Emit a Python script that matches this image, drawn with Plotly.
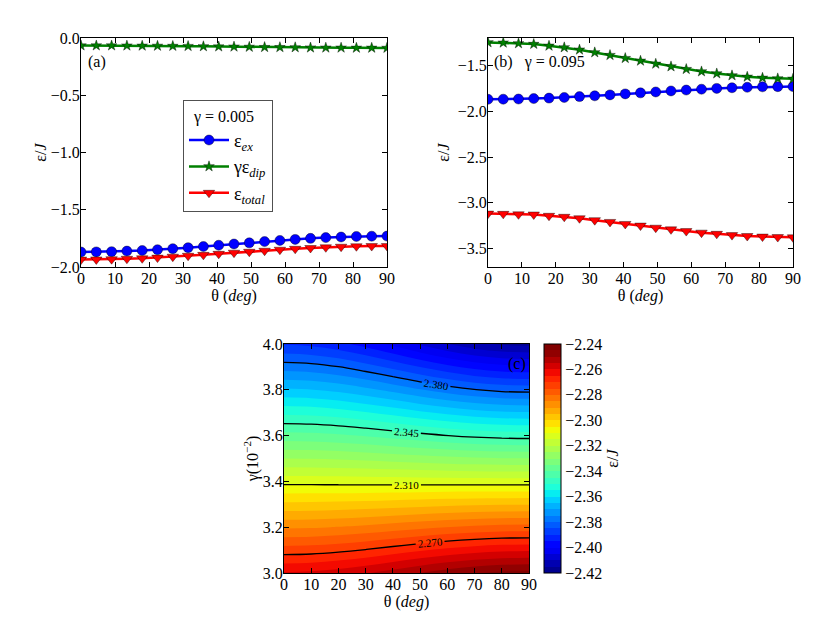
import plotly.graph_objects as go

# theta grid for panels (a) and (b)
theta = [0, 4.5, 9, 13.5, 18, 22.5, 27, 31.5, 36, 40.5, 45,
         49.5, 54, 58.5, 63, 67.5, 72, 76.5, 81, 85.5, 90]

e_ex = [-1.869, -1.868, -1.866, -1.861, -1.856, -1.849, -1.840, -1.831, -1.821, -1.810, -1.799,
        -1.789, -1.778, -1.768, -1.759, -1.750, -1.743, -1.738, -1.733, -1.731, -1.730]

# gamma = 0.005
dip_a = [-0.066, -0.066, -0.066, -0.067, -0.068, -0.069, -0.070, -0.071, -0.073, -0.075, -0.076,
         -0.078, -0.080, -0.081, -0.082, -0.084, -0.085, -0.085, -0.086, -0.086, -0.087]
tot_a = [-1.935, -1.934, -1.932, -1.928, -1.924, -1.918, -1.910, -1.902, -1.894, -1.885, -1.875,
         -1.867, -1.858, -1.849, -1.841, -1.834, -1.828, -1.823, -1.819, -1.817, -1.817]

# gamma = 0.095
dip_b = [-1.248, -1.252, -1.259, -1.266, -1.285, -1.303, -1.328, -1.358, -1.387, -1.420, -1.449,
         -1.482, -1.511, -1.540, -1.566, -1.588, -1.609, -1.624, -1.635, -1.642, -1.646]
tot_b = [-3.117, -3.120, -3.125, -3.127, -3.141, -3.152, -3.168, -3.189, -3.208, -3.230, -3.248,
         -3.271, -3.289, -3.308, -3.325, -3.338, -3.352, -3.362, -3.368, -3.373, -3.376]

# panel (c): energy map over theta x gamma(1e-2)
theta_c = [0, 10, 20, 30, 40, 50, 60, 70, 80, 90]
gamma_c = [3.0, 3.2, 3.4, 3.6, 3.8, 4.0]
energy_c = [
    [-2.2595, -2.2590, -2.2576, -2.2555, -2.2528, -2.2500, -2.2474, -2.2453, -2.2439, -2.2434],
    [-2.2857, -2.2855, -2.2848, -2.2838, -2.2825, -2.2812, -2.2799, -2.2789, -2.2782, -2.2780],
    [-2.3119, -2.3119, -2.3120, -2.3121, -2.3122, -2.3123, -2.3124, -2.3125, -2.3126, -2.3126],
    [-2.3381, -2.3384, -2.3392, -2.3404, -2.3419, -2.3434, -2.3449, -2.3461, -2.3469, -2.3472],
    [-2.3643, -2.3648, -2.3663, -2.3687, -2.3715, -2.3746, -2.3774, -2.3798, -2.3813, -2.3818],
    [-2.3905, -2.3913, -2.3935, -2.3970, -2.4012, -2.4057, -2.4099, -2.4134, -2.4156, -2.4164],
]
line_levels = [-2.380, -2.345, -2.310, -2.270]

# matplotlib style jet
jet = [[0, 'rgb(0,0,128)'], [0.11, 'rgb(0,0,255)'], [0.125, 'rgb(0,0,255)'],
       [0.34, 'rgb(0,219,255)'], [0.35, 'rgb(0,230,247)'], [0.375, 'rgb(21,255,226)'],
       [0.64, 'rgb(239,255,8)'], [0.65, 'rgb(247,245,0)'], [0.66, 'rgb(255,236,0)'],
       [0.89, 'rgb(255,19,0)'], [0.91, 'rgb(232,0,0)'], [1, 'rgb(128,0,0)']]

FONT = 'Liberation Serif'
# page body has an 8px margin, so the figure is 16px smaller and everything shifts by 8
OFF = 8
W, H = 830 - 2 * OFF, 627 - 2 * OFF


def dom_x(a, b):
    return [(a - OFF) / W, (b - OFF) / W]


def dom_y(top, bottom):
    return [1 - (bottom - OFF) / H, 1 - (top - OFF) / H]


fig = go.Figure()

series = [
    ('ε<sub><i>ex</i></sub>', 'rgb(0,0,255)', 'circle', 10),
    ('γε<sub><i>dip</i></sub>', 'rgb(0,128,0)', 'star', 8),
    ('ε<sub><i>total</i></sub>', 'rgb(255,0,0)', 'triangle-down', 10),
]
data_a = [e_ex, dip_a, tot_a]
data_b = [e_ex, dip_b, tot_b]
for i, (name, col, sym, sz) in enumerate(series):
    fig.add_trace(go.Scatter(x=theta, y=data_a[i], mode='lines+markers', name=name,
                             line=dict(color=col, width=2.5),
                             marker=dict(symbol=sym, size=sz, color=col, line=dict(color='black', width=0.4)),
                             xaxis='x', yaxis='y'))
    fig.add_trace(go.Scatter(x=theta, y=data_b[i], mode='lines+markers', name=name, showlegend=False,
                             line=dict(color=col, width=2.5),
                             marker=dict(symbol=sym, size=sz, color=col, line=dict(color='black', width=0.4)),
                             xaxis='x2', yaxis='y2'))

fig.add_trace(go.Contour(x=theta_c, y=gamma_c, z=energy_c, colorscale=jet,
                         zauto=False, zmin=-2.42, zmax=-2.24,
                         contours=dict(start=-2.42, end=-2.24, size=0.005, coloring='fill', showlines=False),
                         line=dict(width=0, smoothing=1),
                         colorbar=dict(x=(544 - OFF) / W, xanchor='left', xpad=0,
                                       y=1 - (458.5 - OFF) / H, yanchor='middle', ypad=0,
                                       len=229, lenmode='pixels', thickness=17, thicknessmode='pixels',
                                       outlinecolor='black', outlinewidth=1,
                                       tickvals=[-2.42 + 0.02 * k for k in range(10)], tickformat='.2f',
                                       ticks='',
                                       tickfont=dict(family=FONT, size=16, color='black'),
                                       title=dict(text='ε/<i>J</i>', side='right',
                                                  font=dict(family=FONT, size=16, color='black'))),
                         showlegend=False, xaxis='x3', yaxis='y3'))

# black labelled contour lines (negated so the labels read without sign, as in the figure)
neg_energy = [[-v for v in row] for row in energy_c]
for lev in line_levels:
    fig.add_trace(go.Contour(x=theta_c, y=gamma_c, z=neg_energy, showscale=False,
                             contours=dict(start=-lev, end=-lev + 0.0001, size=1, coloring='none',
                                           showlabels=True, labelformat='.3f',
                                           labelfont=dict(family=FONT, size=11, color='black')),
                             line=dict(color='black', width=1.3, smoothing=1),
                             showlegend=False, hoverinfo='skip', xaxis='x3', yaxis='y3'))

axis_common = dict(showgrid=False, zeroline=False, showline=True, linecolor='black', linewidth=1,
                   mirror='ticks', ticks='inside', ticklen=5, tickcolor='black', ticklabelstandoff=-3,
                   automargin=False, tickfont=dict(family=FONT, size=16, color='black'))
xtitle = dict(text='θ (<i>deg</i>)', font=dict(family=FONT, size=16, color='black'), standoff=2)


def ytitle(text, standoff):
    return dict(text=text, font=dict(family=FONT, size=16, color='black'), standoff=standoff)


fig.update_layout(
    width=W, height=H, margin=dict(l=0, r=0, t=0, b=0, autoexpand=False),
    paper_bgcolor='white', plot_bgcolor='white',
    font=dict(family=FONT, color='black'),
    xaxis=dict(domain=dom_x(81, 387), range=[0, 90], dtick=10, anchor='y', title=xtitle, **axis_common),
    yaxis=dict(domain=dom_y(38, 267), range=[-2.0, 0.0], dtick=0.5, tickformat='.1f', anchor='x',
               title=ytitle('ε/<i>J</i>', 0), **axis_common),
    xaxis2=dict(domain=dom_x(488, 793), range=[0, 90], dtick=10, anchor='y2', title=xtitle, **axis_common),
    yaxis2=dict(domain=dom_y(38, 267), range=[-3.7, -1.2], tickvals=[-3.5, -3.0, -2.5, -2.0, -1.5],
                tickformat='.1f', anchor='x2', title=ytitle('ε/<i>J</i>', 4), **axis_common),
    xaxis3=dict(domain=dom_x(284, 529), range=[0, 90], dtick=10, anchor='y3', title=xtitle, **axis_common),
    yaxis3=dict(domain=dom_y(344, 573), range=[3.0, 4.0], dtick=0.2, tickformat='.1f', anchor='x3',
                title=ytitle('γ(10<sup>−2</sup>)', 0), **axis_common),
    legend=dict(x=(183 - OFF) / W, y=1 - (100 - OFF) / H, xanchor='left', yanchor='top',
                bgcolor='white', bordercolor='rgb(80,80,80)', borderwidth=1,
                font=dict(family=FONT, size=18, color='black'),
                title=dict(text='  γ = 0.005', font=dict(family=FONT, size=16, color='black'), side='top'),
                itemwidth=40, tracegroupgap=2),
    annotations=[
        dict(text='(a)', xref='x domain', yref='y domain', x=0.015, y=0.895, showarrow=False,
             xanchor='left', yanchor='middle', font=dict(family=FONT, size=16, color='black')),
        dict(text='(b)   γ = 0.095', xref='x2 domain', yref='y2 domain', x=0.013, y=0.895, showarrow=False,
             xanchor='left', yanchor='middle', font=dict(family=FONT, size=16, color='black')),
        dict(text='(c)', xref='x3 domain', yref='y3 domain', x=0.95, y=0.913, showarrow=False,
             xanchor='center', yanchor='middle', font=dict(family=FONT, size=16, color='black')),
    ],
)

fig.write_html('out.html')
